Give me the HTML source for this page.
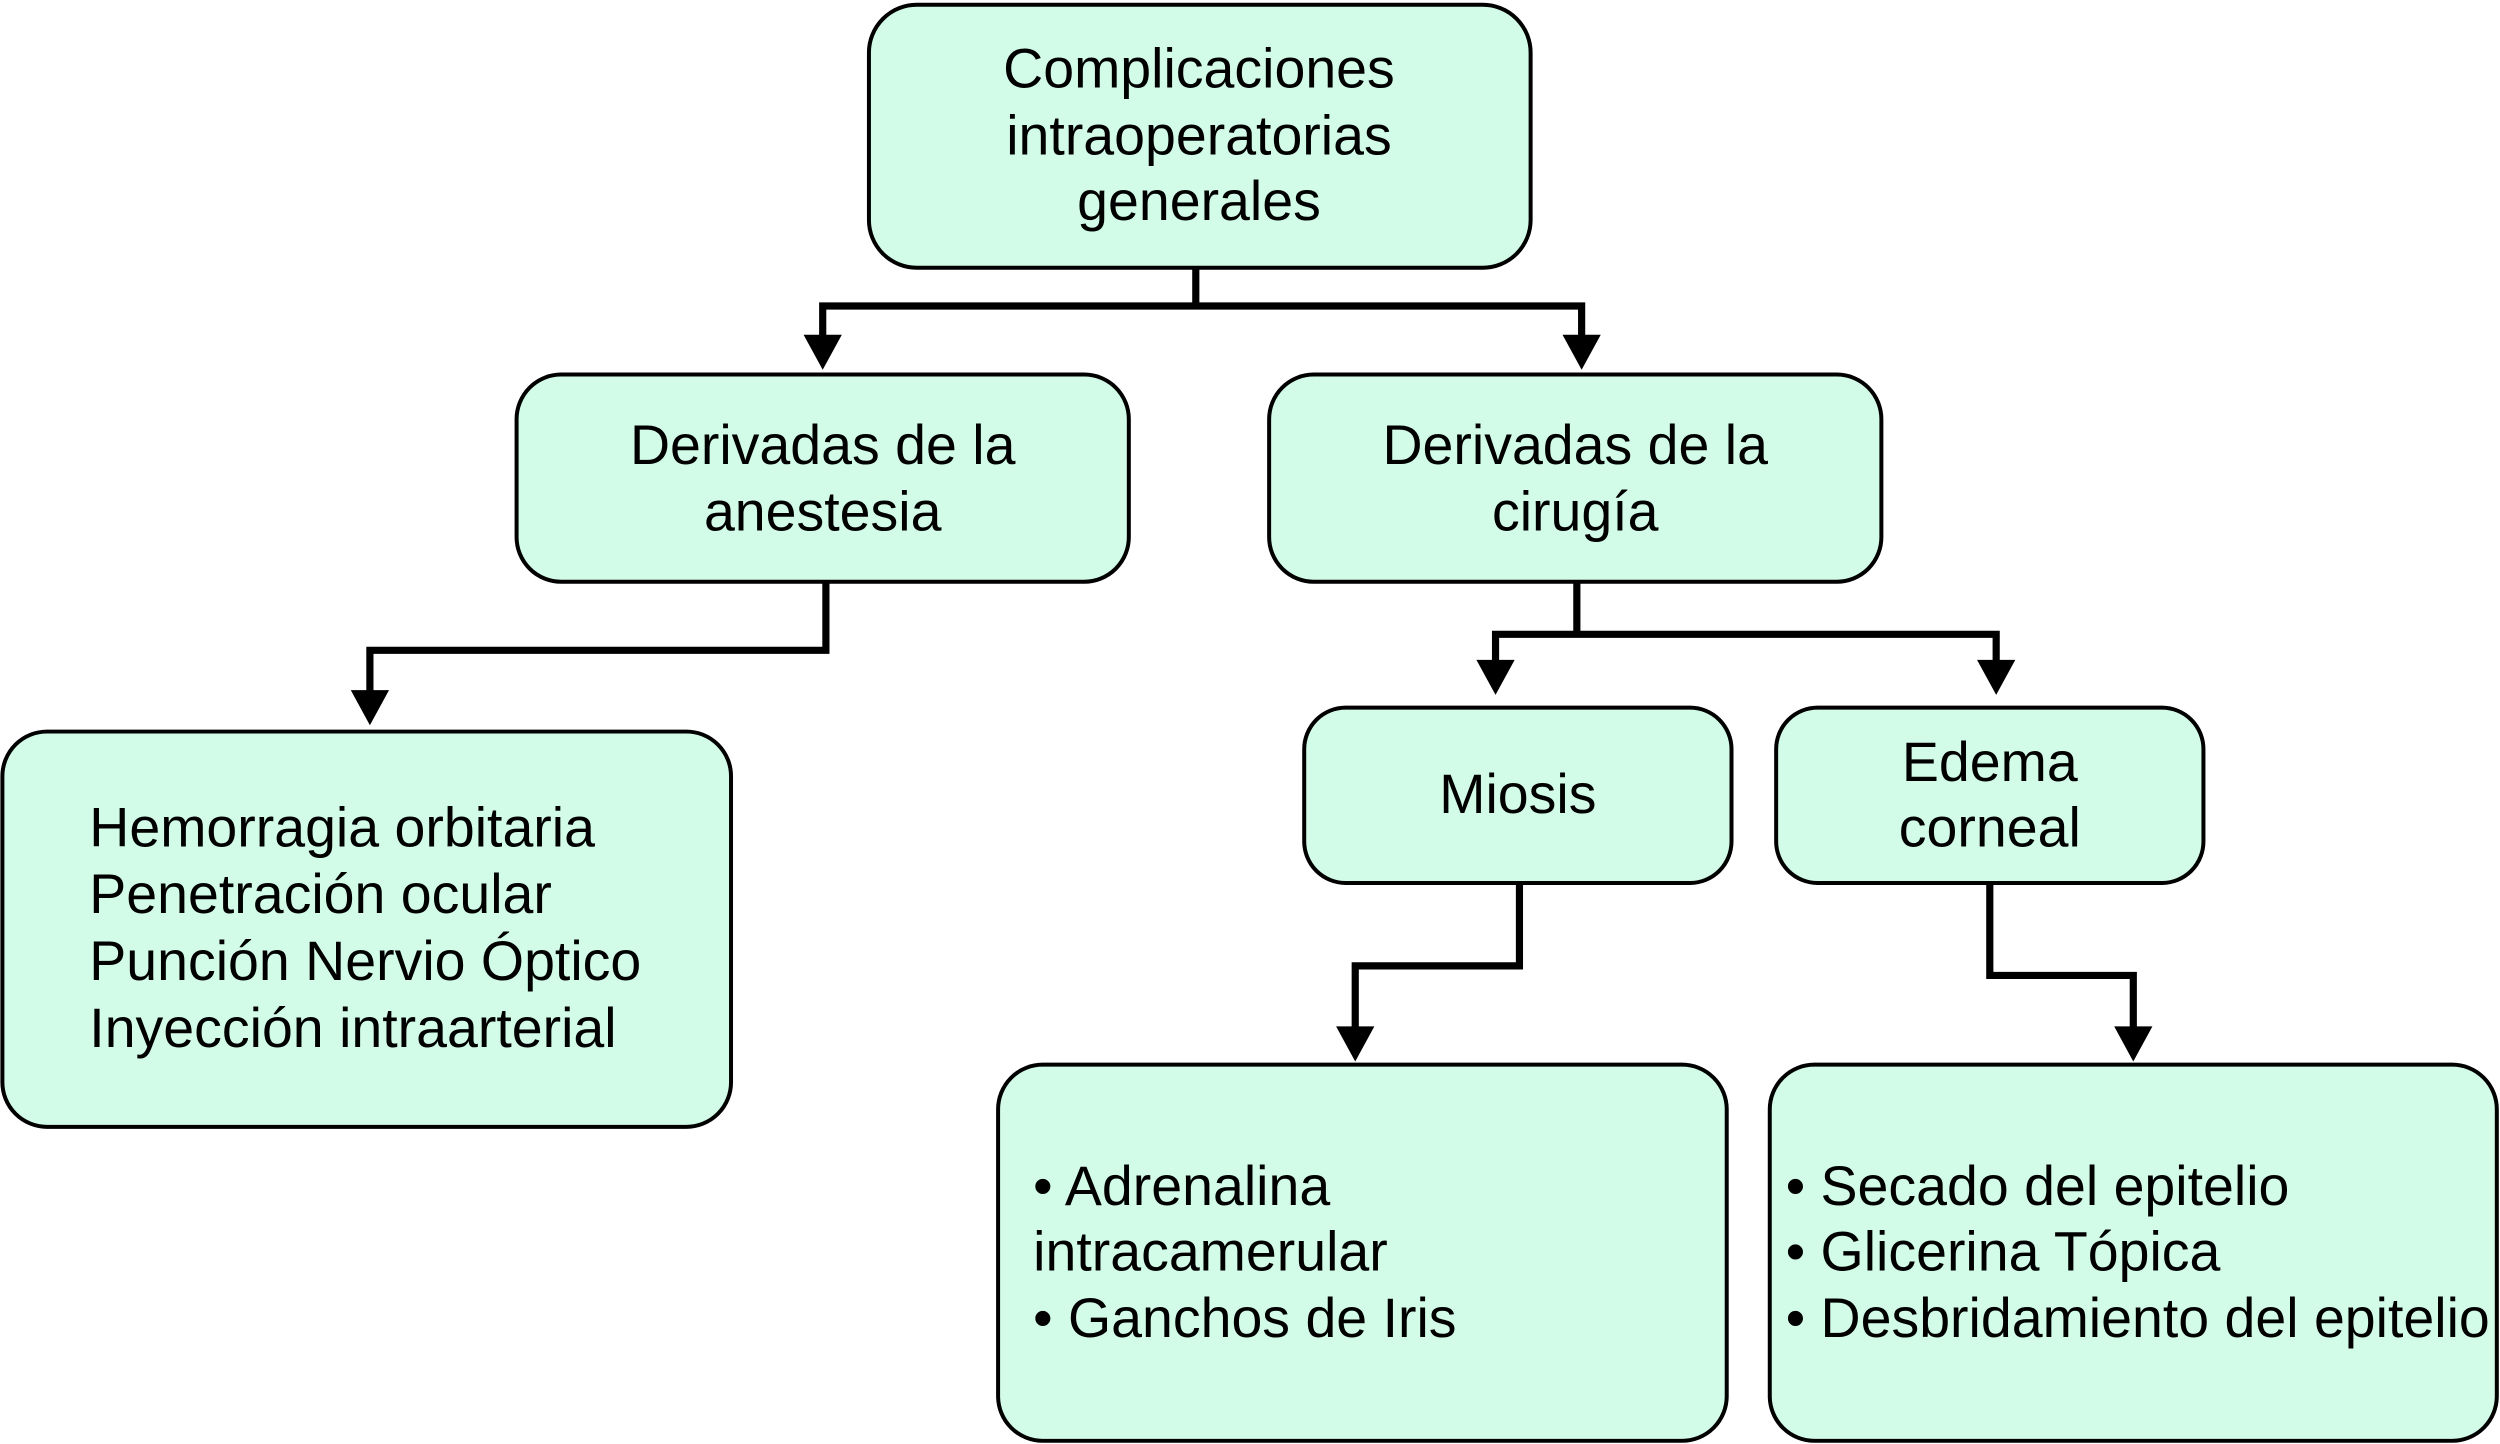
<!DOCTYPE html>
<html><head><meta charset="utf-8"><style>
html,body{margin:0;padding:0;background:#fff;width:2500px;height:1444px;overflow:hidden}
svg{display:block}
text{font-family:"Liberation Sans",Arial,sans-serif;font-size:34.8px;fill:#000}
</style></head><body>
<svg width="2500" height="1444" viewBox="0 0 1568 906" preserveAspectRatio="none" xmlns="http://www.w3.org/2000/svg">
<g fill="#d2fbe8" stroke="#000" stroke-width="2.5">
<rect x="545" y="3" width="415" height="165" rx="30"/>
<rect x="324" y="235" width="384" height="130" rx="28"/>
<rect x="796" y="235" width="384" height="130" rx="28"/>
<rect x="1.5" y="459" width="457" height="248" rx="28"/>
<rect x="818" y="444" width="268" height="110" rx="26"/>
<rect x="1114" y="444" width="268" height="110" rx="26"/>
<rect x="626" y="668" width="457" height="236" rx="28"/>
<rect x="1110" y="668" width="456" height="236" rx="28"/>
</g>
<g fill="none" stroke="#000" stroke-width="4.5">
<polyline points="750,168 750,192"/>
<polyline points="516,218 516,192 992,192 992,218"/>
<polyline points="518,365 518,408 232,408 232,440"/>
<polyline points="989,365 989,398"/>
<polyline points="938,420 938,398 1252,398 1252,420"/>
<polyline points="953,554 953,606 850,606 850,650"/>
<polyline points="1248,554 1248,612 1338,612 1338,650"/>
</g>
<g fill="#000">
<polygon points="504,210 528,210 516,232"/>
<polygon points="980,210 1004,210 992,232"/>
<polygon points="220,433 244,433 232,455"/>
<polygon points="926,414 950,414 938,436"/>
<polygon points="1240,414 1264,414 1252,436"/>
<polygon points="838,644 862,644 850,666"/>
<polygon points="1326,644 1350,644 1338,666"/>
</g>
<g text-anchor="middle">
<text x="752" y="55">Complicaciones</text>
<text x="752" y="97">intraoperatorias</text>
<text x="752" y="138">generales</text>
<text x="516" y="291">Derivadas de la</text>
<text x="516" y="333">anestesia</text>
<text x="988" y="291">Derivadas de la</text>
<text x="988" y="333">cirugía</text>
<text x="952" y="510">Miosis</text>
<text x="1248" y="490">Edema</text>
<text x="1248" y="531">corneal</text>
</g>
<text x="56" y="531">Hemorragia orbitaria</text>
<text x="56" y="573">Penetración ocular</text>
<text x="56" y="615">Punción Nervio Óptico</text>
<text x="56" y="657">Inyección intraarterial</text>
<text x="648" y="756">• Adrenalina</text>
<text x="648" y="797">intracamerular</text>
<text x="648" y="839">• Ganchos de Iris</text>
<text x="1120" y="756">• Secado del epitelio</text>
<text x="1120" y="797">• Glicerina Tópica</text>
<text x="1120" y="839">• Desbridamiento del epitelio</text>
</svg>
</body></html>
